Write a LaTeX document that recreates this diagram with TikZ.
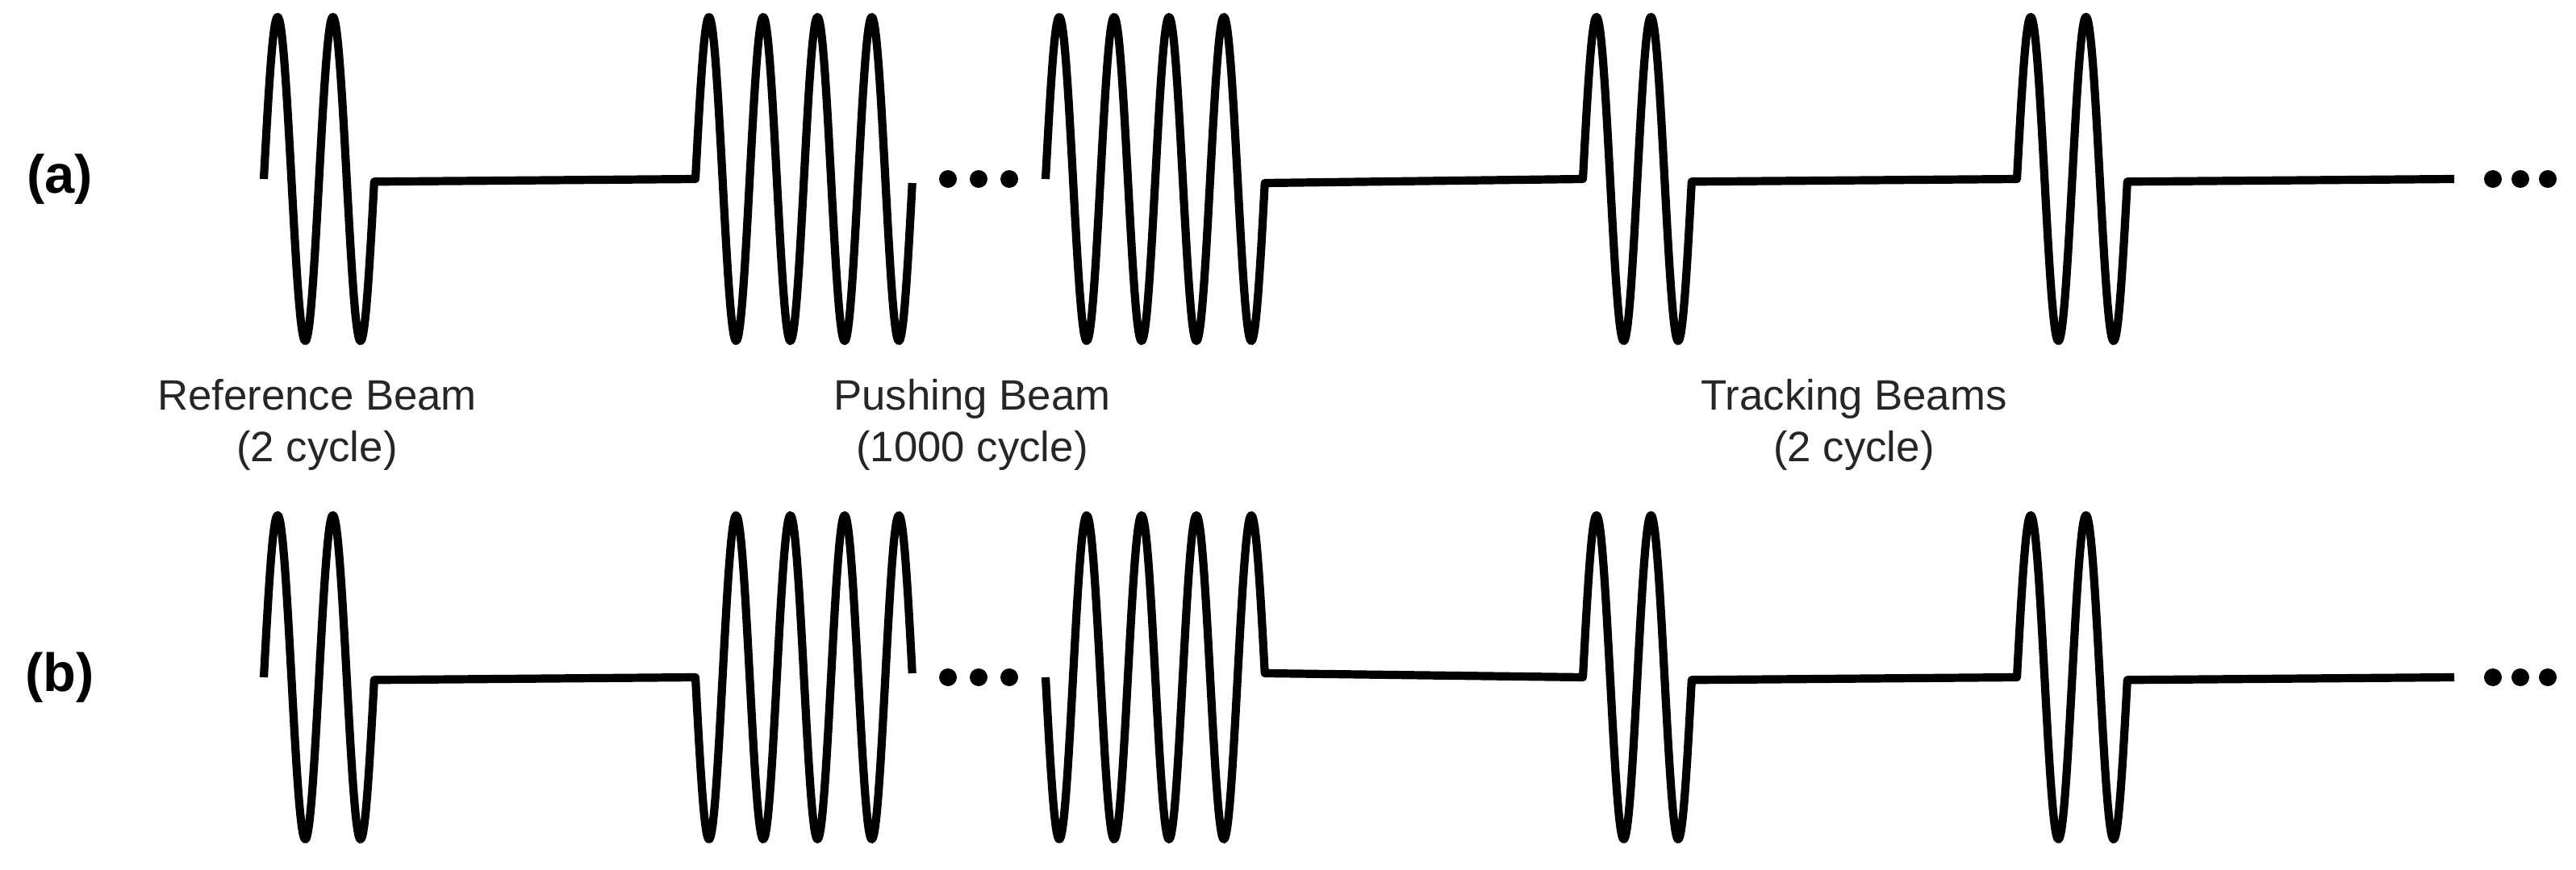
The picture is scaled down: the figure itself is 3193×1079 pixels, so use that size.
\documentclass[tikz,border=0pt]{standalone}
\usepackage{fontspec}
\setmainfont{Liberation Sans}
\begin{document}
\begin{tikzpicture}[x=0.01cm,y=-0.01cm,
  wave/.style={line width=2.9pt,line join=round},
  lbl/.style={font=\fontsize{15pt}{18pt}\selectfont,align=center,text=black!85},
  tag/.style={font=\bfseries\fontsize{19pt}{22pt}\selectfont},
  dot/.style={fill=black}]
\useasboundingbox (0,0) rectangle (3193,1079);
\foreach \bb/\ss/\tt in {222/1/a,840/-1/b}{
  \draw[wave] plot[domain=0:1,samples=120] ({327+137*\x},{\bb-201*sin(720*\x)})
     -- (862,\bb)
     -- plot[domain=0:1,samples=200] ({862+269*\x},{\bb-(\ss)*201*sin(1440*\x)});
  \draw[wave] plot[domain=0:1,samples=200] ({1296+272*\x},{\bb-(\ss)*201*sin(1440*\x)})
     -- (1962,\bb)
     -- plot[domain=0:1,samples=120] ({1962+135*\x},{\bb-201*sin(720*\x)})
     -- (2500,\bb)
     -- plot[domain=0:1,samples=120] ({2500+137*\x},{\bb-201*sin(720*\x)})
     -- (3042,\bb);
  \foreach \dd in {1175,1213,1251,3090,3124,3158} \fill[dot] (\dd,\bb) circle[radius=11];
  \node[tag] (tag\tt) at (74,\bb) {(\tt)};
}
\node[lbl] (ref) at (393,527) {Reference Beam\\(2 cycle)};
\node[lbl] (push) at (1205,527) {Pushing Beam\\(1000 cycle)};
\node[lbl] (track) at (2298,527) {Tracking Beams\\(2 cycle)};
\end{tikzpicture}
\end{document}
